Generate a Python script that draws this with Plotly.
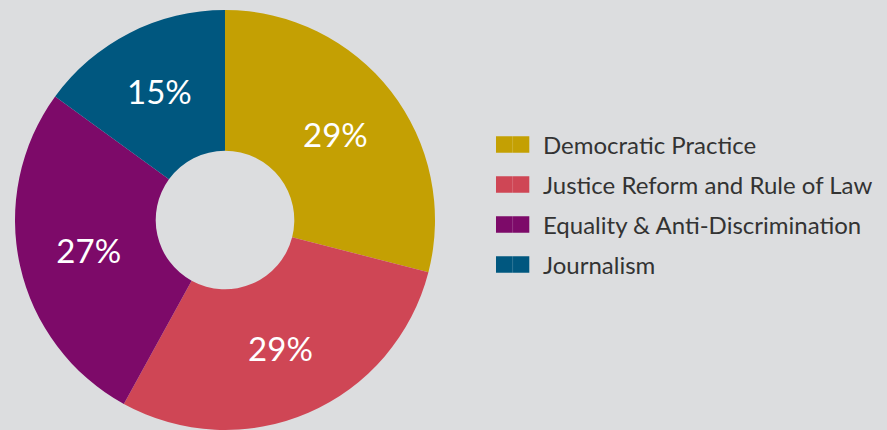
import plotly.graph_objects as go

categories = ["Democratic Practice", "Justice Reform and Rule of Law",
              "Equality & Anti-Discrimination", "Journalism"]
values = [29, 29, 27, 15]
colors = ["#C4A003", "#CF4655", "#7D0A69", "#00577F"]

W, H = 887, 430

fig = go.Figure()
fig.add_trace(go.Pie(
    labels=categories,
    values=values,
    marker=dict(colors=colors, line=dict(width=0)),
    hole=0.33,
    sort=False,
    direction="clockwise",
    rotation=0,
    texttemplate="%{value}%",
    textposition="inside",
    insidetextorientation="horizontal",
    textfont=dict(family="Lato", size=33, color="white"),
    domain=dict(x=[0, 450 / W], y=[0, 420 / H]),
    hoverinfo="label+percent",
    showlegend=False,
))

# custom legend (swatch pair + label), built from the category/colour lists
shapes, annotations = [], []
row_centers = [144.5, 184.5, 224.5, 264.5]  # layout positions (px from top)
for name, col, cy in zip(categories, colors, row_centers):
    y0 = 1 - (cy + 8.3) / H
    y1 = 1 - (cy - 8.3) / H
    shapes.append(dict(type="rect", xref="paper", yref="paper",
                       x0=496 / W, x1=529.3 / W, y0=y0, y1=y1,
                       fillcolor=col, line=dict(width=0), layer="above"))
    shapes.append(dict(type="line", xref="paper", yref="paper",
                       x0=512.6 / W, x1=512.6 / W, y0=y0, y1=y1,
                       line=dict(color="rgba(255,255,255,0.18)", width=1),
                       layer="above"))
    annotations.append(dict(text=name, xref="paper", yref="paper",
                            x=541 / W, y=1 - cy / H, xanchor="left",
                            yanchor="middle", showarrow=False,
                            font=dict(family="Lato", size=24, color="#333333")))

fig.update_layout(
    width=W, height=H,
    margin=dict(l=0, r=0, t=0, b=0),
    paper_bgcolor="#DCDDDF",
    plot_bgcolor="#DCDDDF",
    showlegend=False,
    shapes=shapes,
    annotations=annotations,
)

fig.write_html("out.html")
